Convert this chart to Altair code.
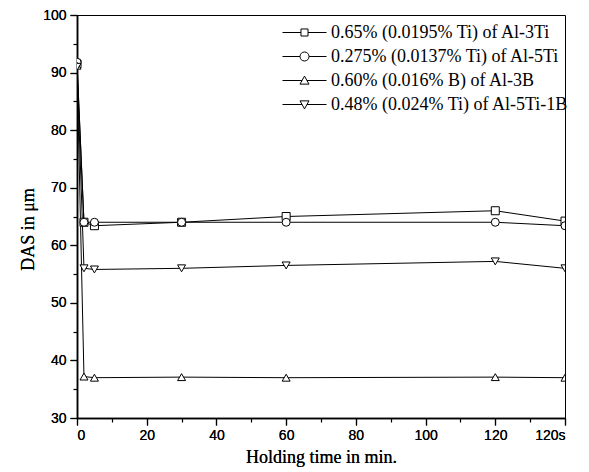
import altair as alt
import pandas as pd

times = [0, 2, 5, 30, 60, 120, 140]
series_names = [
    "0.65% (0.0195% Ti) of Al-3Ti",
    "0.275% (0.0137% Ti) of Al-5Ti",
    "0.60% (0.016% B) of Al-3B",
    "0.48% (0.024% Ti) of Al-5Ti-1B",
]
al3ti = [91.5, 64.0, 63.4, 64.0, 65.0, 66.0, 64.2]
al5ti = [91.8, 64.0, 64.0, 64.0, 64.0, 64.0, 63.4]
al3b = [91.2, 37.2, 37.0, 37.1, 37.0, 37.1, 37.0]
al5ti1b = [91.0, 56.0, 55.8, 56.0, 56.5, 57.2, 56.0]
x_ticks = [0, 20, 40, 60, 80, 100, 120, 140]
x_minor = [10, 30, 50, 70, 90, 110, 130]
y_ticks = [30, 40, 50, 60, 70, 80, 90, 100]
y_minor = [35, 45, 55, 65, 75, 85, 95]

rows = []
for name, vals in zip(series_names, [al3ti, al5ti, al3b, al5ti1b]):
    for t, v in zip(times, vals):
        rows.append({"time": t, "value": v, "series": name})
df = pd.DataFrame(rows)

shapes = ["square", "circle", "triangle-up", "triangle-down"]
legend_paths = [
    "M-1,0H0.68M1.32,0H3M0.68,-0.32H1.32V0.32H0.68Z",
    "M-1,0H0.59M1.41,0H3M0.59,0A0.41,0.41 0 1,0 1.41,0A0.41,0.41 0 1,0 0.59,0Z",
    "M-1,0H0.775M1.225,0H3M0.59,0.33L1.41,0.33L1,-0.4Z",
    "M-1,0H0.775M1.225,0H3M0.59,-0.33L1.41,-0.33L1,0.4Z",
]

xs = alt.Scale(domain=[0, 140], nice=False, zero=False)
ys = alt.Scale(domain=[30, 100], nice=False, zero=False)

major_x = alt.Axis(values=x_ticks, title="Holding time in min.", orient="bottom",
                   labelExpr="datum.value == 140 ? '120s' : datum.label",
                   tickSize=7, labelFont="Liberation Sans", labelFontSize=14,
                   titleFont="Liberation Serif", titleFontSize=18, titleFontWeight="normal",
                   titlePadding=6, labelPadding=3, grid=False)
major_y = alt.Axis(values=y_ticks, title="DAS in μm", orient="left",
                   tickSize=7, labelFont="Liberation Sans", labelFontSize=14,
                   titleFont="Liberation Serif", titleFontSize=18, titleFontWeight="normal",
                   titleX=-40, titleY=214, labelPadding=4, grid=False)
minor_x = alt.Axis(values=x_minor, labels=False, title=None, orient="bottom",
                   tickSize=4, domain=False, grid=False)
minor_y = alt.Axis(values=y_minor, labels=False, title=None, orient="left",
                   tickSize=4, domain=False, grid=False)

base = alt.Chart(df)

lines = base.mark_line(color="black", strokeWidth=1, clip=True).encode(
    x=alt.X("time:Q", scale=xs, axis=major_x),
    y=alt.Y("value:Q", scale=ys, axis=major_y),
    detail="series:N",
)

points = base.mark_point(filled=True, fill="white", stroke="black", strokeWidth=1,
                         size=64, opacity=1, clip=True).encode(
    x=alt.X("time:Q", scale=xs, axis=major_x),
    y=alt.Y("value:Q", scale=ys, axis=major_y),
    shape=alt.Shape("series:N", scale=alt.Scale(domain=series_names, range=shapes), legend=None),
)

minor = base.mark_point(opacity=0).encode(
    x=alt.X("time:Q", scale=xs, axis=minor_x),
    y=alt.Y("value:Q", scale=ys, axis=minor_y),
)

legend_layer = base.transform_filter("false").mark_point(
    filled=False, color="black", strokeWidth=1, opacity=1
).encode(
    shape=alt.Shape(
        "series:N",
        scale=alt.Scale(domain=series_names, range=legend_paths),
        legend=alt.Legend(
            title=None, orient="none", legendX=205, legendY=6,
            symbolSize=484, symbolStrokeColor="black",
            symbolStrokeWidth=1, symbolOpacity=1,
            labelFont="Liberation Serif", labelFontSize=18, labelColor="black",
            labelOffset=26, rowPadding=3, labelLimit=400,
        ),
    )
)

chart = (
    alt.layer(lines, points, minor, legend_layer)
    .resolve_scale(shape="independent")
    .resolve_axis(x="independent", y="independent")
    .properties(
        width=488, height=403,
        autosize=alt.AutoSizeParams(type="none"),
        padding={"left": 69, "top": 7, "right": 10, "bottom": 52},
    )
    .configure_view(stroke="black", strokeWidth=1)
    .configure_axis(domainColor="black", domainWidth=1.5, tickColor="black",
                    labelColor="black", titleColor="black", tickWidth=1.2)
)

chart.save("out.html", embed_options={"renderer": "svg", "actions": False})
